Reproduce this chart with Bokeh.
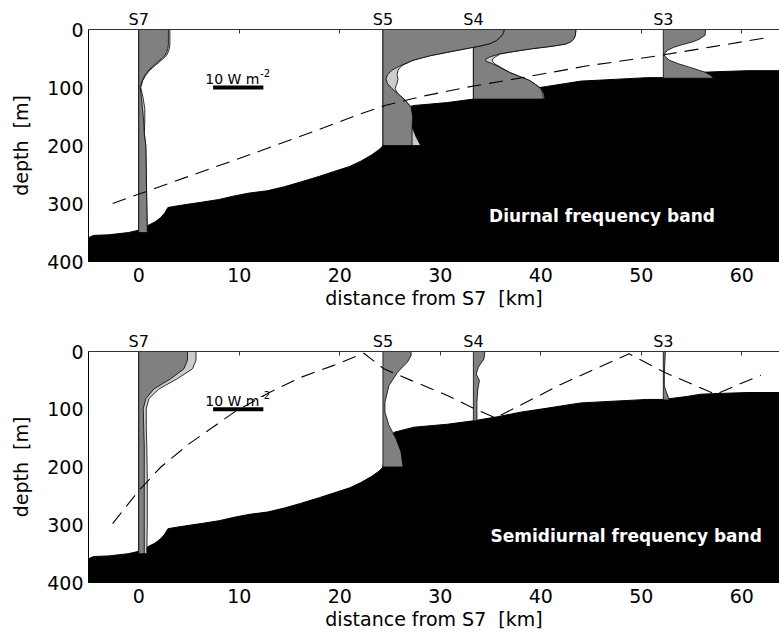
from bokeh.plotting import figure
from bokeh.models import Range1d, LinearAxis, FixedTicker, Label, CustomJSTickFormatter
from bokeh.layouts import column
from bokeh.embed import file_html
from bokeh.resources import INLINE

# ---------------- data ----------------
station_names = ["S7", "S5", "S4", "S3"]
station_km = [0.0, 24.3, 33.3, 52.2]

depth_ticks = [0, 100, 200, 300, 400]
dist_ticks = [0, 10, 20, 30, 40, 50, 60]

bathy_km = [-5, -4.5, -3, -1, 0, 0.9, 1.6, 2.2, 2.6, 2.9, 3.5, 5, 6.2, 8, 9.5, 11, 12.8,
            14.5, 16.1, 18, 19.4, 21, 22.1, 23.2, 24.0, 24.3, 24.6, 25.4, 27.4, 30.7,
            33.3, 35.7, 38, 40.7, 42.5, 44, 47.3, 50.6, 52.2, 54.5, 55.9, 57.2, 60.6, 63.8]
bathy_depth = [359, 355, 354, 350, 346, 338, 332, 324, 316, 307, 305, 301, 298, 293, 287,
               282, 278, 271, 263, 253, 245, 236, 227, 216, 206, 200, 170, 140, 131, 126,
               120, 113, 105, 98, 93, 89, 86, 83, 83, 78, 74, 73, 71, 71]

# Diurnal band: energy flux profiles [W m^-2], two estimates (a, b)
di_S7_depth = [0, 25, 33, 40, 45, 50, 56, 62, 70, 79, 88, 100, 115, 136, 160, 180, 200, 250, 300, 350]
di_S7_a = [5.9, 5.9, 5.8, 5.5, 5.2, 4.6, 3.8, 3.0, 2.0, 1.2, 0.7, 0.3, 0.5, 0.74, 1.0, 1.1, 1.4, 1.5, 1.6, 1.7]
di_S7_b = [6.2, 6.2, 6.1, 5.8, 5.5, 4.9, 4.1, 3.3, 2.2, 1.4, 0.8, 0.4, 0.8, 1.2, 1.2, 1.1, 1.4, 1.5, 1.6, 1.7]

di_S5_depth = [0, 6, 13, 19, 24, 28, 31, 38, 45, 53, 62, 70, 78, 85, 93, 102, 111, 120, 134, 150, 168, 185, 200]
di_S5_a = [24.1, 24.0, 23.4, 22.6, 21.4, 19.6, 17.8, 13.6, 9.5, 6.0, 3.6, 1.8, 0.9, 0.6, 0.9, 1.8, 3.0, 4.2, 5.6, 5.9, 5.8, 5.8, 5.8]
di_S5_b = [24.1, 24.0, 23.4, 22.6, 21.4, 19.6, 17.8, 13.6, 9.5, 6.0, 3.8, 3.0, 2.8, 3.0, 2.8, 2.4, 3.0, 4.2, 5.6, 5.9, 5.8, 6.6, 7.5]

di_S4_depth = [0, 10, 16, 21, 25, 29, 33, 38, 42, 47, 51, 55, 59, 66, 74, 81, 88, 95, 102, 110, 120]
di_S4_a = [20.4, 20.3, 20.0, 19.4, 18.4, 15.6, 11.8, 8.0, 5.2, 3.4, 2.4, 2.6, 3.8, 5.4, 7.2, 9.2, 11.2, 12.4, 13.4, 13.8, 13.9]
di_S4_b = [20.4, 20.3, 20.0, 19.4, 18.4, 15.6, 11.8, 8.0, 5.4, 4.4, 3.8, 3.8, 4.2, 5.6, 7.2, 9.2, 11.2, 12.4, 13.5, 14.0, 14.2]

di_S3_depth = [0, 10, 17, 22, 26, 31, 36, 40, 44, 48, 53, 59, 65, 70, 74, 79, 84]
di_S3_a = [8.4, 8.3, 7.1, 5.6, 3.8, 2.0, 0.8, 0.4, 0.2, 0.5, 1.2, 3.0, 5.2, 7.0, 8.4, 9.4, 10.0]

# Semidiurnal band
sd_S7_depth = [0, 15, 30, 47, 65, 82, 99, 134, 163, 220, 300, 350]
sd_S7_a = [9.7, 9.7, 9.0, 6.4, 3.0, 1.4, 0.9, 1.0, 1.1, 1.1, 1.1, 1.1]
sd_S7_b = [11.4, 11.4, 10.7, 7.7, 4.0, 2.0, 1.5, 1.5, 1.6, 1.7, 1.7, 1.6]

sd_S5_depth = [0, 7, 18, 36, 59, 88, 105, 128, 151, 174, 200]
sd_S5_a = [5.6, 5.6, 4.9, 2.9, 1.2, 0.4, 0.4, 1.2, 2.6, 3.6, 4.0]

sd_S4_depth = [0, 13, 27, 39, 50, 65, 88, 120]
sd_S4_a = [2.3, 2.1, 1.0, 0.55, 1.2, 0.9, 0.7, 0.7]

sd_S3_depth = [0, 20, 40, 60, 70, 84]
sd_S3_a = [0.4, 0.3, 0.2, 0.2, 0.6, 1.2]

# Characteristic ray paths
di_ray_km = [-2.6, 5, 12, 18, 22, 24.5, 28, 32.5, 38.5, 44.5, 51.4, 57, 62.2]
di_ray_depth = [300, 253, 210, 172, 146, 131, 116, 100, 82, 63, 46, 30, 15]

sd_ray_km = [-2.6, 0, 2.2, 5, 9.5, 13.1, 16.1, 19.4, 22.4, 24.4, 27.1, 30.7, 33.4, 35.5, 42, 48.8, 52.3, 57.4, 61.9]
sd_ray_depth = [298, 241, 200, 160, 105, 70, 45, 24, 3, 30, 50, 76, 99, 115, 57, 4, 36, 74, 41]

scale_flux = 10  # W m^-2 scale bar

# ---------------- style ----------------
KM_PER_WM2 = 0.5
DARK = "#808080"
LIGHT = "#cccccc"
FONT = "DejaVu Sans"
NB = "\u00a0"


def make_panel(profiles, ray_km, ray_depth, band_text, band_x, band_y, top_minor,
               border_top, frame_h):
    p = figure(width=779, height=320,
               x_range=Range1d(-5, 63.76), y_range=Range1d(400, 0),
               output_backend="svg", toolbar_location=None,
               min_border_left=88, min_border_right=0,
               min_border_top=border_top,
               min_border_bottom=320 - border_top - frame_h)
    p.grid.visible = False
    p.outline_line_color = None

    # bathymetry
    p.patch(bathy_km + [bathy_km[-1], bathy_km[0]],
            bathy_depth + [400, 400],
            fill_color="black", line_color="black", line_width=1)

    # flux profiles
    for x0, dep, fa, fb in profiles:
        ys = [dep[0]] + list(dep) + [dep[-1]]
        if fb is not None:
            xs = [x0] + [x0 + KM_PER_WM2 * f for f in fb] + [x0]
            p.patch(xs, ys, fill_color=LIGHT, line_color="black", line_width=0.8)
        xs = [x0] + [x0 + KM_PER_WM2 * f for f in fa] + [x0]
        p.patch(xs, ys, fill_color=DARK, line_color="black", line_width=0.8)

    # ray path
    p.line(ray_km, ray_depth, line_color="black", line_width=1.1, line_dash="14 8")

    # scale bar
    bar_mid = 7.4 + scale_flux * KM_PER_WM2 / 2
    p.line([7.4, 7.4 + scale_flux * KM_PER_WM2], [100, 100],
           line_color="black", line_width=4, line_cap="butt")
    p.add_layout(Label(x=bar_mid, y=86, x_offset=-33,
                       text="%d W m" % scale_flux, text_align="left",
                       text_baseline="alphabetic", text_font=FONT,
                       text_font_size="14px", text_color="black"))
    p.add_layout(Label(x=bar_mid, y=86, x_offset=22, y_offset=6,
                       text="-2", text_align="left",
                       text_baseline="alphabetic", text_font=FONT,
                       text_font_size="10px", text_color="black"))

    # band label
    p.add_layout(Label(x=band_x, y=band_y, text=band_text, text_align="center",
                       text_baseline="middle", text_font=FONT,
                       text_font_size="17px", text_font_style="bold",
                       text_color="white"))

    # axes
    p.xaxis.ticker = FixedTicker(ticks=dist_ticks)
    p.yaxis.ticker = FixedTicker(ticks=depth_ticks)
    for ax in (p.xaxis, p.yaxis):
        ax.major_tick_in = 0
        ax.major_tick_out = 0
        ax.minor_tick_in = 0
        ax.minor_tick_out = 0
        ax.major_label_text_font = FONT
        ax.major_label_text_font_size = "19px"
        ax.major_label_text_color = "black"
        ax.axis_label_text_font = FONT
        ax.axis_label_text_font_size = "19px"
        ax.axis_label_text_font_style = "normal"
        ax.axis_label_text_color = "black"
        ax.axis_line_color = "black"
        ax.axis_line_width = 1
    p.xaxis.axis_label = "distance from S7 " + NB + "[km]"
    p.xaxis.major_label_standoff = 6
    p.xaxis.axis_label_standoff = 2
    p.yaxis.axis_label = "depth " + NB + "[m]"
    p.yaxis.major_label_standoff = 5
    p.yaxis.axis_label_standoff = 12

    # top border: station names as major labels, distance ticks as minor ticks
    fmt = CustomJSTickFormatter(args=dict(names=station_names, pos=station_km), code="""
        for (let i = 0; i < pos.length; i++) {
            if (Math.abs(pos[i] - tick) < 1e-6) { return names[i] }
        }
        return ""
    """)
    top = LinearAxis(ticker=FixedTicker(ticks=station_km, minor_ticks=top_minor),
                     formatter=fmt)
    top.major_tick_in = 0
    top.major_tick_out = 0
    top.minor_tick_in = 4
    top.minor_tick_out = 0
    top.major_label_standoff = 1
    top.major_label_text_font = FONT
    top.major_label_text_font_size = "16px"
    top.major_label_text_color = "black"
    top.axis_line_color = "#333333"
    top.axis_line_width = 1
    top.minor_tick_line_color = "#333333"
    p.add_layout(top, "above")
    return p


di_profiles = [
    (station_km[3], di_S3_depth, di_S3_a, None),
    (station_km[2], di_S4_depth, di_S4_a, di_S4_b),
    (station_km[1], di_S5_depth, di_S5_a, di_S5_b),
    (station_km[0], di_S7_depth, di_S7_a, di_S7_b),
]
sd_profiles = [
    (station_km[3], sd_S3_depth, sd_S3_a, None),
    (station_km[2], sd_S4_depth, sd_S4_a, None),
    (station_km[1], sd_S5_depth, sd_S5_a, None),
    (station_km[0], sd_S7_depth, sd_S7_a, sd_S7_b),
]

p1 = make_panel(di_profiles, di_ray_km, di_ray_depth, "Diurnal frequency band",
                46.1, 321, [10, 20, 50, 60], 29, 232)
p2 = make_panel(sd_profiles, sd_ray_km, sd_ray_depth, "Semidiurnal frequency band",
                48.5, 320, [10, 20, 30, 40, 50, 60], 31, 231)

layout = column(p1, p2, spacing=0)
open("out.html", "w").write(file_html(layout, INLINE))
